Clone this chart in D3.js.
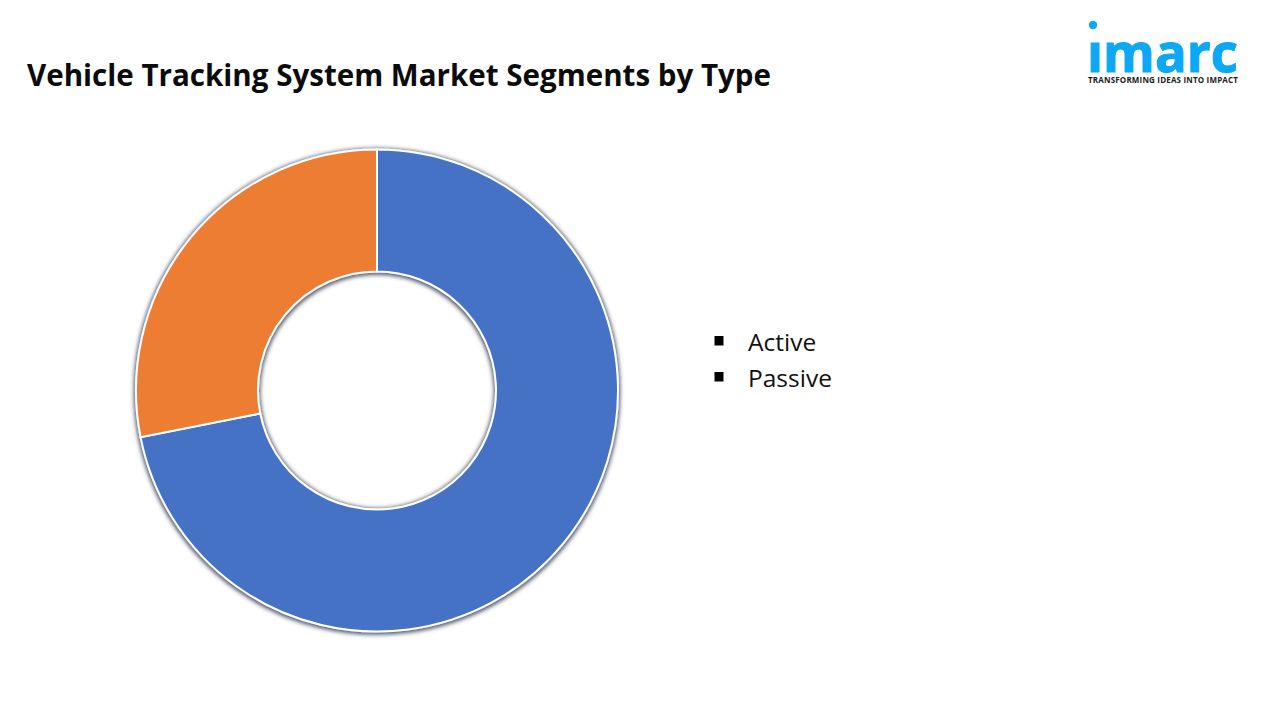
<!DOCTYPE html>
<html>
<head>
<meta charset="utf-8">
<style>
  html, body { margin: 0; padding: 0; background: #fff; }
  svg { display: block; }
  text { font-family: "Open Sans", sans-serif; }
</style>
</head>
<body>
<svg width="1280" height="720"></svg>
<script src="https://d3js.org/d3.v7.min.js"></script>
<script>
  var categories = ["Active", "Passive"];
  var shares = [71.9, 28.1];
  var colors = ["#4472C4", "#ED7D31"];

  var svg = d3.select("svg");
  var cx = 377, cy = 390.5, outer = 241, inner = 119;

  var defs = svg.append("defs");
  var shadow = defs.append("filter")
      .attr("id", "shadow")
      .attr("x", "-5%").attr("y", "-5%")
      .attr("width", "110%").attr("height", "110%");
  shadow.append("feMorphology")
      .attr("in", "SourceAlpha")
      .attr("operator", "dilate")
      .attr("radius", 1)
      .attr("result", "grown");
  shadow.append("feGaussianBlur")
      .attr("in", "grown")
      .attr("stdDeviation", 2)
      .attr("result", "soft");
  shadow.append("feOffset")
      .attr("in", "soft")
      .attr("dy", 0.5)
      .attr("result", "moved");
  shadow.append("feFlood")
      .attr("flood-color", "#3f465c")
      .attr("flood-opacity", 0.95);
  shadow.append("feComposite")
      .attr("in2", "moved")
      .attr("operator", "in")
      .attr("result", "dark");
  var merge = shadow.append("feMerge");
  merge.append("feMergeNode").attr("in", "dark");
  merge.append("feMergeNode").attr("in", "SourceGraphic");

  // keeps the logo's own dot, drawn higher up than the font puts it
  defs.append("clipPath").attr("id", "logoClip")
    .append("rect")
      .attr("x", 1080).attr("y", 42)
      .attr("width", 170).attr("height", 32);

  svg.append("text")
      .attr("x", 27).attr("y", 86)
      .attr("font-size", 29.55)
      .attr("font-weight", 700)
      .attr("fill", "#0b0b0b")
      .text("Vehicle Tracking System Market Segments by Type");

  var color = d3.scaleOrdinal().domain(categories).range(colors);

  var pie = d3.pie().sort(null).value(function(d, i) { return shares[i]; });
  var arc = d3.arc().innerRadius(inner).outerRadius(outer);

  svg.append("g")
      .attr("transform", "translate(" + cx + "," + cy + ")")
      .attr("filter", "url(#shadow)")
    .selectAll("path")
    .data(pie(categories))
    .enter().append("path")
      .attr("d", arc)
      .attr("fill", function(d) { return color(d.data); })
      .attr("stroke", "#fff")
      .attr("stroke-width", 2);

  var legend = svg.append("g")
    .selectAll("g")
    .data(categories)
    .enter().append("g")
      .attr("transform", function(d, i) { return "translate(714," + (351 + i * 36) + ")"; });

  legend.append("rect")
      .attr("x", 0.5).attr("y", -15)
      .attr("width", 9).attr("height", 9.5)
      .attr("fill", "#000");

  legend.append("text")
      .attr("x", 34)
      .attr("font-size", 24.5)
      .attr("fill", "#111")
      .text(function(d) { return d; });

  var logo = svg.append("g");
  logo.append("circle")
      .attr("cx", 1093).attr("cy", 25).attr("r", 4.2)
      .attr("fill", "#0CA8F5");
  logo.append("text")
      .attr("x", 1087).attr("y", 72)
      .attr("clip-path", "url(#logoClip)")
      .attr("font-size", 53)
      .attr("font-weight", 700)
      .attr("fill", "#0CA8F5")
      .attr("stroke", "#0CA8F5")
      .attr("stroke-width", 1)
      .attr("textLength", 151)
      .attr("lengthAdjust", "spacingAndGlyphs")
      .text("imarc");
  logo.append("text")
      .attr("x", 1088).attr("y", 83)
      .attr("font-size", 8)
      .attr("font-weight", 700)
      .attr("fill", "#222")
      .attr("textLength", 150)
      .text("TRANSFORMING IDEAS INTO IMPACT");
</script>
</body>
</html>
